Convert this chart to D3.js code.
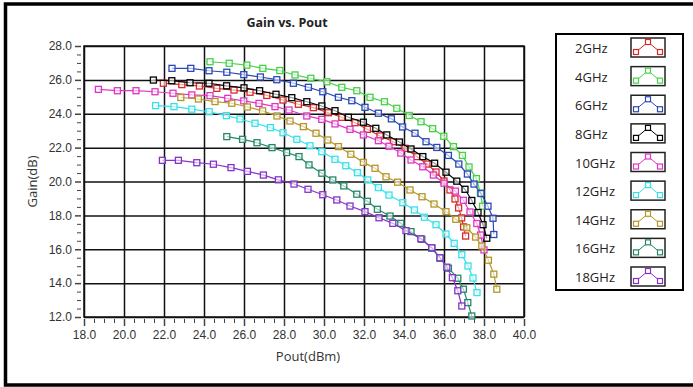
<!DOCTYPE html>
<html>
<head>
<meta charset="utf-8">
<script src="https://cdn.jsdelivr.net/npm/d3@7"></script>
<style>
  body { margin: 0; background: #fff; }
  svg { font-family: "Open Sans", "Noto Sans", sans-serif; }
  .tick text { fill: #333; font-size: 12px; }
  .axis path { display: none; }
  .axis line { stroke: #444; }
  .grid line { stroke: #111; stroke-width: 1.5; }
  .grid path { display: none; }
</style>
</head>
<body>
<svg width="693" height="387"></svg>
<script>
// series labels + colours
const freqs = ["2GHz", "4GHz", "6GHz", "8GHz", "10GHz", "12GHz", "14GHz", "16GHz", "18GHz"]
const colors = ["#d42a2a", "#48d048", "#2a48b8", "#000000", "#e034c4", "#38e0e8", "#b49628", "#24876a", "#8434c8"]

const xTicks = [18, 20, 22, 24, 26, 28, 30, 32, 34, 36, 38, 40]
const yTicks = [12, 14, 16, 18, 20, 22, 24, 26, 28]

// Pout (dBm) / Gain (dB)
const pout2 = [21.97, 22.89, 23.77, 24.64, 25.5, 26.3, 27.14, 27.95, 28.72, 29.47, 30.22, 30.89, 31.55, 32.17, 32.8, 33.47, 34.05, 34.64, 35.15, 35.6, 36.0, 36.3, 36.55, 36.73, 36.88, 36.98, 37.08]
const gain2 = [25.8, 25.72, 25.64, 25.5, 25.4, 25.27, 25.08, 24.81, 24.56, 24.36, 24.06, 23.79, 23.47, 23.08, 22.69, 22.35, 21.96, 21.47, 21.03, 20.56, 20.03, 19.5, 18.97, 18.44, 17.85, 17.32, 16.78]

const pout4 = [24.3, 25.26, 26.14, 26.94, 27.79, 28.55, 29.34, 30.14, 30.89, 31.64, 32.3, 33.02, 33.64, 34.26, 34.85, 35.43, 35.99, 36.47, 36.92, 37.25, 37.62, 37.82, 37.93]
const gain4 = [27.07, 26.98, 26.87, 26.68, 26.55, 26.29, 26.09, 25.89, 25.56, 25.36, 24.97, 24.71, 24.32, 23.9, 23.53, 23.12, 22.67, 22.06, 21.54, 20.86, 20.17, 19.32, 18.54]

const pout6 = [22.4, 23.34, 24.25, 25.14, 25.99, 26.82, 27.64, 28.47, 29.22, 29.94, 30.72, 31.39, 32.05, 32.72, 33.37, 33.93, 34.55, 35.1, 35.64, 36.22, 36.74, 37.17, 37.5, 37.85, 38.2, 38.45, 38.49]
const gain6 = [26.68, 26.68, 26.54, 26.45, 26.31, 26.17, 26.01, 25.8, 25.56, 25.3, 24.97, 24.77, 24.38, 24.03, 23.7, 23.22, 22.85, 22.35, 22.01, 21.54, 21.03, 20.44, 19.85, 19.29, 18.54, 17.83, 16.87]

const pout8 = [21.47, 22.39, 23.3, 24.25, 25.13, 26.0, 26.78, 27.6, 28.39, 29.14, 29.89, 30.55, 31.22, 31.97, 32.59, 33.14, 33.77, 34.35, 34.94, 35.53, 36.1, 36.64, 37.05, 37.39, 37.7, 37.95, 38.14]
const gain8 = [25.99, 25.95, 25.83, 25.8, 25.65, 25.53, 25.36, 25.15, 24.95, 24.71, 24.46, 24.18, 23.79, 23.5, 23.14, 22.75, 22.33, 21.92, 21.47, 21.08, 20.55, 20.02, 19.54, 18.88, 18.17, 17.45, 16.65]

const pout10 = [18.72, 19.67, 20.6, 21.55, 22.45, 23.39, 24.3, 25.19, 25.99, 26.75, 27.55, 28.25, 29.14, 29.89, 30.55, 31.3, 31.97, 32.72, 33.25, 33.84, 34.35, 34.94, 35.47, 36.0, 36.57, 36.97, 37.3, 37.64, 37.83, 38.0]
const gain10 = [25.44, 25.36, 25.36, 25.3, 25.21, 25.11, 25.07, 24.91, 24.76, 24.61, 24.42, 24.22, 23.87, 23.67, 23.4, 23.08, 22.75, 22.41, 22.08, 21.68, 21.27, 20.87, 20.38, 19.9, 19.43, 18.89, 18.2, 17.52, 16.84, 15.96]

const pout12 = [21.58, 22.5, 23.39, 24.26, 25.12, 25.8, 26.55, 27.32, 27.95, 28.64, 29.3, 29.89, 30.55, 31.09, 31.67, 32.19, 32.72, 33.25, 33.94, 34.52, 35.02, 35.6, 36.1, 36.51, 36.89, 37.2, 37.45, 37.65]
const gain12 = [24.48, 24.42, 24.27, 24.12, 23.89, 23.69, 23.44, 23.18, 22.88, 22.49, 22.11, 21.76, 21.31, 20.93, 20.52, 20.09, 19.64, 19.2, 18.75, 18.32, 17.89, 17.45, 16.9, 16.35, 15.68, 15.01, 14.3, 13.44]

const pout14 = [22.84, 23.72, 24.55, 25.39, 26.17, 26.93, 27.65, 28.3, 28.97, 29.6, 30.19, 30.72, 31.34, 31.97, 32.55, 33.1, 33.68, 34.3, 34.9, 35.5, 36.1, 36.59, 37.14, 37.58, 37.89, 38.22, 38.49, 38.64]
const gain14 = [24.96, 24.87, 24.72, 24.62, 24.4, 24.17, 23.87, 23.57, 23.24, 22.85, 22.45, 22.06, 21.61, 21.13, 20.78, 20.28, 19.96, 19.5, 19.1, 18.67, 18.22, 17.77, 17.27, 16.72, 16.19, 15.35, 14.53, 13.64]

const pout16 = [25.14, 25.93, 26.65, 27.4, 28.13, 28.75, 29.25, 29.89, 30.44, 30.99, 31.64, 32.17, 32.67, 33.3, 33.84, 34.35, 34.89, 35.39, 35.8, 36.22, 36.69, 36.97, 37.19, 37.39]
const gain16 = [22.65, 22.49, 22.29, 22.0, 21.71, 21.47, 20.98, 20.49, 20.09, 19.74, 19.25, 18.83, 18.36, 17.96, 17.53, 17.04, 16.59, 16.06, 15.47, 14.88, 14.29, 13.64, 12.85, 12.06]

const pout18 = [21.92, 22.72, 23.64, 24.47, 25.35, 26.17, 26.97, 27.72, 28.5, 29.2, 29.94, 30.64, 31.3, 32.05, 32.75, 33.44, 34.1, 34.84, 35.39, 35.8, 36.14, 36.42, 36.69, 36.89]
const gain18 = [21.25, 21.25, 21.11, 21.02, 20.82, 20.6, 20.38, 20.1, 19.85, 19.54, 19.22, 18.91, 18.55, 18.22, 17.86, 17.53, 17.1, 16.62, 16.09, 15.5, 14.94, 14.32, 13.55, 12.65]

const pouts = [pout2, pout4, pout6, pout8, pout10, pout12, pout14, pout16, pout18]
const gains = [gain2, gain4, gain6, gain8, gain10, gain12, gain14, gain16, gain18]

const series = freqs.map((f, i) => ({
  name: f,
  color: colors[i],
  values: pouts[i].map((p, j) => ({ p: p, g: gains[i][j] }))
}))

const svg = d3.select("svg")

// outer frame (right side runs off the picture)
svg.append("rect")
  .attr("x", 5.5).attr("y", 4).attr("width", 700).attr("height", 381)
  .attr("fill", "none").attr("stroke", "#000").attr("stroke-width", 3.5)

const mLeft = 84, mRight = 524, mTop = 46, mBottom = 317

const x = d3.scaleLinear().domain([18, 40]).range([mLeft, mRight])
const y = d3.scaleLinear().domain([12, 28]).range([mBottom, mTop])

/* grid lines */
svg.append("g")
  .attr("class", "grid")
  .attr("transform", "translate(0," + mBottom + ")")
  .call(d3.axisBottom(x).tickValues(xTicks).tickSize(-(mBottom - mTop)).tickFormat(""))
svg.append("g")
  .attr("class", "grid")
  .attr("transform", "translate(" + mLeft + ",0)")
  .call(d3.axisLeft(y).tickValues(yTicks).tickSize(-(mRight - mLeft)).tickFormat(""))

// plot border
svg.append("rect")
  .attr("x", mLeft).attr("y", mTop).attr("width", mRight - mLeft).attr("height", mBottom - mTop)
  .attr("fill", "none").attr("stroke", "#111").attr("stroke-width", 1.5)

/* minor + major ticks */
const xMinor = d3.range(18, 40.01, 0.5).filter(v => v % 2 !== 0)
const yMinor = d3.range(12, 28.01, 0.5).filter(v => v % 2 !== 0)

svg.append("g").attr("class", "axis")
  .attr("transform", "translate(0," + (mBottom + 2) + ")")
  .call(d3.axisBottom(x).tickValues(xMinor).tickSize(4).tickFormat(""))
svg.append("g").attr("class", "axis")
  .attr("transform", "translate(0," + (mBottom + 2) + ")")
  .call(d3.axisBottom(x).tickValues(xTicks).tickSize(7).tickPadding(4).tickFormat(d3.format(".1f")))
  .selectAll("line").attr("stroke-width", 1.5)

svg.append("g").attr("class", "axis")
  .attr("transform", "translate(" + (mLeft - 3) + ",0)")
  .call(d3.axisLeft(y).tickValues(yMinor).tickSize(4).tickFormat(""))
svg.append("g").attr("class", "axis")
  .attr("transform", "translate(" + (mLeft - 3) + ",0)")
  .call(d3.axisLeft(y).tickValues(yTicks).tickSize(6).tickPadding(3).tickFormat(d3.format(".1f")))
  .selectAll("line").attr("stroke-width", 1.5)

/* series */
const line = d3.line()
  .x(d => x(d.p))
  .y(d => y(d.g))

const plot = svg.append("g")

series.forEach(s => {
  plot.append("path")
    .datum(s.values)
    .attr("fill", "none")
    .attr("stroke", s.color)
    .attr("stroke-width", 1.2)
    .attr("d", line)

  plot.selectAll(null)
    .data(s.values)
    .enter().append("rect")
    .attr("x", d => x(d.p) - 3)
    .attr("y", d => y(d.g) - 3)
    .attr("width", 6)
    .attr("height", 6)
    .attr("fill", "#fff")
    .attr("fill-opacity", 0.6)
    .attr("stroke", s.color)
    .attr("stroke-width", 1.3)
})

/* titles */
svg.append("text")
  .attr("x", 287).attr("y", 27)
  .attr("text-anchor", "middle")
  .attr("font-size", 12.5).attr("font-weight", "bold").attr("fill", "#222")
  .text("Gain vs. Pout")

svg.append("text")
  .attr("x", 308).attr("y", 361)
  .attr("text-anchor", "middle")
  .attr("font-size", 13).attr("fill", "#333")
  .text("Pout(dBm)")

svg.append("text")
  .attr("transform", "translate(37," + ((mTop + mBottom) / 2) + ") rotate(-90)")
  .attr("text-anchor", "middle")
  .attr("font-size", 13).attr("fill", "#333")
  .text("Gain(dB)")

/* legend */
const legend = svg.append("g")
legend.append("rect")
  .attr("x", 556).attr("y", 34).attr("width", 127).attr("height", 256)
  .attr("fill", "#fff").attr("stroke", "#000").attr("stroke-width", 2)

const rowY = d3.scalePoint().domain(freqs).range([48, 277])

const items = legend.selectAll("g.item")
  .data(series)
  .enter().append("g")
  .attr("class", "item")
  .attr("transform", d => "translate(0," + rowY(d.name) + ")")

items.append("text")
  .attr("x", 575).attr("y", 5)
  .attr("font-size", 13).attr("fill", "#222")
  .text(d => d.name)

items.append("rect")
  .attr("x", 631).attr("y", -10).attr("width", 34).attr("height", 19)
  .attr("fill", "#fff").attr("stroke", "#222").attr("stroke-width", 1.5)

const iconPts = [[636, 4], [648, -6], [660, 4]]
items.append("path")
  .attr("fill", "none")
  .attr("stroke", d => d.color)
  .attr("stroke-width", 1)
  .attr("d", d3.line()(iconPts))

iconPts.forEach(pt => {
  items.append("rect")
    .attr("x", pt[0] - 2.5).attr("y", pt[1] - 2.5)
    .attr("width", 5).attr("height", 5)
    .attr("fill", "#fff")
    .attr("stroke", d => d.color)
    .attr("stroke-width", 1.2)
})
</script>
</body>
</html>
